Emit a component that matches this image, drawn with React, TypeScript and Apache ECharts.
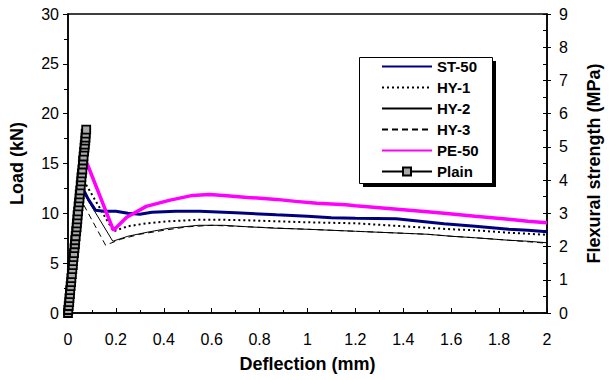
import React, { useEffect, useRef } from "react";
import * as echarts from "echarts";

const FONT = "'Liberation Sans', Arial, sans-serif";

const seriesNames = ["ST-50", "HY-1", "HY-2", "HY-3", "PE-50", "Plain"];

const st50: number[][] = [
  [0, 0], [0.053, 12.7], [0.062, 12.5], [0.085, 11.4], [0.115, 10.3], [0.15, 10.2], [0.2, 10.2],
  [0.25, 10.0], [0.3, 9.9], [0.35, 10.1], [0.45, 10.2], [0.55, 10.2], [0.7, 10.05], [0.87, 9.85],
  [1.0, 9.7], [1.1, 9.55], [1.2, 9.5], [1.37, 9.45], [1.45, 9.25], [1.57, 8.95], [1.7, 8.7],
  [1.84, 8.4], [1.92, 8.3], [2.0, 8.15],
];

const hy1: number[][] = [
  [0, 0], [0.055, 13.3], [0.07, 13.1], [0.19, 8.2], [0.25, 8.7], [0.33, 9.0], [0.42, 9.2],
  [0.545, 9.35], [0.65, 9.35], [0.75, 9.3], [0.87, 9.2], [1.0, 9.1], [1.1, 9.05], [1.2, 9.0],
  [1.3, 8.85], [1.4, 8.7], [1.5, 8.55], [1.6, 8.4], [1.7, 8.3], [1.84, 8.05], [1.92, 7.95], [2.0, 7.85],
];

const hy2: number[][] = [
  [0, 0], [0.05, 12.2], [0.066, 12.0], [0.187, 7.2], [0.25, 7.7], [0.33, 8.1], [0.42, 8.5],
  [0.545, 8.8], [0.65, 8.8], [0.75, 8.65], [0.873, 8.5], [1.0, 8.4], [1.1, 8.3], [1.2, 8.2],
  [1.3, 8.1], [1.4, 8.0], [1.5, 7.9], [1.6, 7.7], [1.7, 7.55], [1.84, 7.3], [1.92, 7.2], [2.0, 7.05],
];

const hy3: number[][] = [
  [0, 0], [0.047, 11.3], [0.06, 11.1], [0.157, 6.8], [0.22, 7.4], [0.3, 7.9], [0.4, 8.3],
  [0.5, 8.65], [0.6, 8.8], [0.7, 8.7], [0.8, 8.6], [0.9, 8.5], [1.0, 8.4], [1.1, 8.3],
  [1.2, 8.2], [1.3, 8.1], [1.4, 8.0], [1.5, 7.9], [1.6, 7.7], [1.7, 7.55], [1.84, 7.3], [2.0, 7.0],
];

const pe50: number[][] = [
  [0, 0], [0.062, 15.0], [0.078, 15.1], [0.19, 8.3], [0.245, 9.6], [0.327, 10.7], [0.422, 11.3],
  [0.52, 11.8], [0.59, 11.9], [0.65, 11.8], [0.75, 11.6], [0.87, 11.4], [0.95, 11.2],
  [1.04, 11.0], [1.16, 10.85], [1.2, 10.75], [1.3, 10.55], [1.4, 10.35], [1.5, 10.15],
  [1.57, 10.0], [1.7, 9.7], [1.84, 9.4], [1.92, 9.2], [2.0, 9.05],
];

const plain: number[][] = [
  [0, 0], [0.001, 0.3], [0.003, 0.7], [0.005, 1.1], [0.006, 1.5], [0.008, 1.9], [0.009, 2.3],
  [0.011, 2.7], [0.013, 3.1], [0.014, 3.5], [0.016, 3.9], [0.018, 4.4], [0.020, 4.8],
  [0.021, 5.2], [0.023, 5.6], [0.025, 6.0], [0.027, 6.5], [0.029, 6.9], [0.030, 7.3],
  [0.032, 7.7], [0.034, 8.2], [0.036, 8.6], [0.037, 9.0], [0.039, 9.4], [0.040, 9.8],
  [0.042, 10.2], [0.044, 10.7], [0.046, 11.1], [0.048, 11.5], [0.049, 11.9], [0.051, 12.3],
  [0.053, 12.8], [0.055, 13.2], [0.056, 13.6], [0.058, 14.0], [0.060, 14.4], [0.062, 14.9],
  [0.063, 15.3], [0.065, 15.7], [0.067, 16.2], [0.069, 16.6], [0.070, 16.9], [0.072, 17.3],
  [0.073, 17.6], [0.074, 18.0], [0.076, 18.4],
];

const xTitle = "Deflection (mm)";
const yTitle = "Load (kN)";
const y2Title = "Flexural strength (MPa)";

export default function App() {
  const ref = useRef<HTMLDivElement>(null);
  useEffect(() => {
    document.body.style.margin = "0";
    const chart = echarts.init(ref.current!, null, { renderer: "svg" });
    const labelStyle = { color: "#000", fontSize: 16, fontFamily: FONT };
    const nameStyle = { color: "#000", fontSize: 18, fontWeight: "bold", fontFamily: FONT };
    const hiddenSym = { color: "rgba(0,0,0,0)", borderColor: "rgba(0,0,0,0)", borderWidth: 0, opacity: 0 };
    chart.setOption({
      animation: false,
      grid: {
        left: 67, right: 56, top: 14, bottom: 67,
        show: true, borderColor: "#000", borderWidth: 1.5, backgroundColor: "transparent",
      },
      xAxis: [
        {
          type: "value", min: 0, max: 2, interval: 0.2,
          name: xTitle, nameLocation: "middle", nameGap: 42, nameTextStyle: nameStyle,
          axisLine: { show: true, lineStyle: { color: "#000", width: 1.5 } },
          axisTick: { show: true, inside: true, length: 5, lineStyle: { color: "#000" } },
          minorTick: { show: true, splitNumber: 2, length: 3, lineStyle: { color: "#000" } },
          splitLine: { show: false },
          axisLabel: {
            ...labelStyle, margin: 18,
            formatter: (v: number) => String(Math.round(v * 10) / 10),
          },
        },
      ],
      yAxis: [
        {
          type: "value", min: 0, max: 30, interval: 5, position: "left",
          name: yTitle, nameLocation: "middle", nameGap: 42, nameRotate: 90, nameTextStyle: nameStyle,
          axisLine: { show: true, lineStyle: { color: "#000", width: 1.5 } },
          axisTick: { show: true, inside: false, length: 5, lineStyle: { color: "#000" } },
          minorTick: { show: true, splitNumber: 2, length: 4, lineStyle: { color: "#000" } },
          splitLine: { show: false },
          axisLabel: { ...labelStyle, margin: 9 },
        },
        {
          type: "value", min: 0, max: 9, interval: 1, position: "right",
          name: y2Title, nameLocation: "middle", nameGap: 38, nameRotate: 90, nameTextStyle: nameStyle,
          axisLine: { show: true, lineStyle: { color: "#000", width: 1.5 } },
          axisTick: { show: true, inside: true, length: 4, lineStyle: { color: "#000" } },
          minorTick: { show: true, splitNumber: 2, length: 4, lineStyle: { color: "#000" } },
          splitLine: { show: false },
          axisLabel: { ...labelStyle, margin: 12 },
        },
        {
          type: "value", min: 0, max: 9, interval: 1, position: "right",
          axisLine: { show: false },
          axisTick: { show: true, inside: false, length: 4, lineStyle: { color: "#000" } },
          splitLine: { show: false },
          axisLabel: { show: false },
        },
      ],
      legend: {
        orient: "vertical", left: 381, top: 59, padding: 0,
        itemWidth: 50, itemHeight: 10, itemGap: 6, z: 10,
        data: [
          { name: seriesNames[0], itemStyle: hiddenSym },
          { name: seriesNames[1], itemStyle: hiddenSym },
          { name: seriesNames[2], itemStyle: hiddenSym },
          { name: seriesNames[3], itemStyle: hiddenSym },
          { name: seriesNames[4], itemStyle: hiddenSym },
          { name: seriesNames[5] },
        ],
        textStyle: { color: "#000", fontSize: 15, fontWeight: "bold", fontFamily: FONT },
      },
      graphic: [
        { type: "rect", z: 8, silent: true, shape: { x: 363, y: 61, width: 133, height: 126 }, style: { fill: "#000" } },
        { type: "rect", z: 9, silent: true, shape: { x: 359.5, y: 57.5, width: 133, height: 126 }, style: { fill: "#fff", stroke: "#000", lineWidth: 1 } },
      ],
      series: [
        {
          name: "ST-50", type: "line", data: st50, symbol: "none", z: 4,
          lineStyle: { color: "#00007f", width: 3 }, itemStyle: { color: "#00007f" },
        },
        {
          name: "HY-1", type: "line", data: hy1, symbol: "none", z: 3,
          lineStyle: { color: "#000", width: 2, type: [2, 3] }, itemStyle: { color: "#000" },
        },
        {
          name: "HY-2", type: "line", data: hy2, symbol: "none", z: 3,
          lineStyle: { color: "#000", width: 1 }, itemStyle: { color: "#000" },
        },
        {
          name: "HY-3", type: "line", data: hy3, symbol: "none", z: 3,
          lineStyle: { color: "#000", width: 1, type: [6, 4] }, itemStyle: { color: "#000" },
        },
        {
          name: "PE-50", type: "line", data: pe50, symbol: "none", z: 5,
          lineStyle: { color: "#ff00ff", width: 3.5 }, itemStyle: { color: "#ff00ff" },
        },
        {
          name: "Plain", type: "line", data: plain, symbol: "rect", symbolSize: 8, showSymbol: true, z: 6,
          showAllSymbol: true,
          lineStyle: { color: "#000", width: 1 },
          itemStyle: { color: "#a8a8a8", borderColor: "#000", borderWidth: 1.8 },
        },
      ],
    });
    return () => chart.dispose();
  }, []);
  return <div ref={ref} style={{ width: 611, height: 380 }} />;
}
